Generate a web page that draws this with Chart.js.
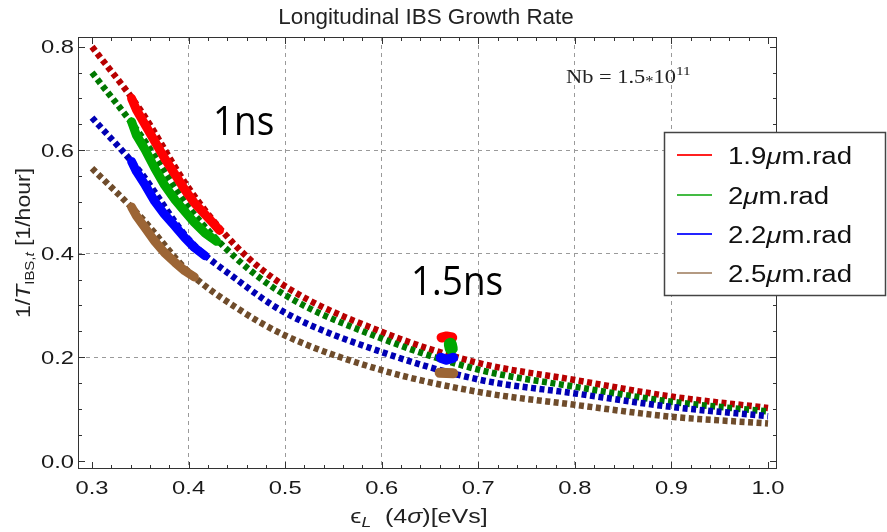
<!DOCTYPE html>
<html>
<head>
<meta charset="utf-8">
<script src="https://cdn.jsdelivr.net/npm/chart.js@4.4.0/dist/chart.umd.min.js"></script>
<style>
  html, body { margin: 0; padding: 0; background: #fff; overflow: hidden; }
  canvas { display: block; }
</style>
</head>
<body>
<canvas id="ibsChart" width="887" height="532"></canvas>
<script>
// model curves (dotted), 1/T_IBS vs longitudinal emittance
const emittance = [0.3, 0.35, 0.4, 0.45, 0.5, 0.6, 0.7, 0.8, 0.9, 1.0];
const rate19 = [0.800, 0.678, 0.527, 0.413, 0.337, 0.249, 0.189, 0.156, 0.124, 0.102];
const rate20 = [0.750, 0.630, 0.490, 0.390, 0.320, 0.236, 0.176, 0.143, 0.114, 0.095];
const rate22 = [0.663, 0.558, 0.428, 0.350, 0.286, 0.210, 0.157, 0.130, 0.104, 0.086];
const rate25 = [0.565, 0.472, 0.365, 0.295, 0.242, 0.175, 0.133, 0.108, 0.085, 0.072];

// 1ns bunch length, [emittance, rate]
const ns1_19 = [[0.341, 0.700], [0.346, 0.678], [0.355, 0.649], [0.365, 0.617], [0.375, 0.585], [0.386, 0.553], [0.396, 0.524], [0.406, 0.498], [0.417, 0.476], [0.427, 0.456], [0.432, 0.445]];
const ns1_20 = [[0.341, 0.655], [0.346, 0.629], [0.355, 0.601], [0.365, 0.565], [0.375, 0.533], [0.386, 0.504], [0.396, 0.482], [0.406, 0.460], [0.417, 0.440], [0.429, 0.424]];
const ns1_22 = [[0.341, 0.578], [0.346, 0.559], [0.355, 0.533], [0.365, 0.501], [0.375, 0.476], [0.386, 0.453], [0.396, 0.431], [0.406, 0.412], [0.417, 0.396]];
const ns1_25 = [[0.341, 0.490], [0.346, 0.473], [0.355, 0.450], [0.365, 0.424], [0.375, 0.402], [0.386, 0.383], [0.396, 0.367], [0.406, 0.355]];

// 1.5ns bunch length
const ns15_19 = [[0.662, 0.238], [0.667, 0.240], [0.673, 0.238]];
const ns15_20 = [[0.671, 0.225], [0.672, 0.217]];
const ns15_22 = [[0.661, 0.199], [0.667, 0.195], [0.674, 0.199]];
const ns15_25 = [[0.660, 0.170], [0.674, 0.169]];

const seriesNames = ['1.9', '2', '2.2', '2.5'];
const xTicks = [0.3, 0.4, 0.5, 0.6, 0.7, 0.8, 0.9, 1.0];
const yTicks = [0.0, 0.2, 0.4, 0.6, 0.8];

const dotColors = ['#b80000', '#007800', '#0000b4', '#6f4c2b'];
const solidColors = ['#ff0000', '#00a800', '#0000ff', '#9c6535'];
const keyColors = ['#ff2020', '#44bb44', '#2424ff', '#b49a82'];

const SANS = '"Liberation Sans", Arial, sans-serif';
const SERIF = '"Liberation Serif", serif';

// draws a run of text pieces, squeezed/stretched horizontally by sx
function drawRun(ctx, parts, x, y, align, sx) {
    let total = 0;
    parts.forEach(p => {
        ctx.font = p.font;
        p.w = ctx.measureText(p.text).width * sx;
        total += p.w;
    });
    let cx = x;
    if (align === 'center') cx = x - total / 2;
    if (align === 'right') cx = x - total;
    parts.forEach(p => {
        ctx.save();
        ctx.font = p.font;
        ctx.textAlign = 'left';
        ctx.textBaseline = 'alphabetic';
        ctx.translate(cx, y + (p.dy || 0));
        ctx.scale(sx, 1);
        ctx.fillText(p.text, 0, 0);
        ctx.restore();
        cx += p.w;
    });
}

const decorations = {
    id: 'decorations',
    afterDraw(chart) {
        const ctx = chart.ctx;
        const a = chart.chartArea;
        const xs = chart.scales.x;
        const ys = chart.scales.y;
        ctx.save();

        // frame with inward ticks
        ctx.strokeStyle = '#333';
        ctx.lineWidth = 1;
        ctx.strokeRect(Math.round(a.left) + 0.5, Math.round(a.top) + 0.5,
            Math.round(a.right - a.left) - 1, Math.round(a.bottom - a.top) - 1);
        ctx.beginPath();
        for (let k = 15; k <= 50; k++) {
            const px = Math.round(xs.getPixelForValue(k * 0.02)) + 0.5;
            const len = k % 5 === 0 ? 7 : 4;
            ctx.moveTo(px, a.bottom); ctx.lineTo(px, a.bottom - len);
            ctx.moveTo(px, a.top); ctx.lineTo(px, a.top + len);
        }
        for (let k = 0; k <= 16; k++) {
            const py = Math.round(ys.getPixelForValue(k * 0.05)) + 0.5;
            const len = k % 4 === 0 ? 7 : 4;
            ctx.moveTo(a.left, py); ctx.lineTo(a.left + len, py);
            ctx.moveTo(a.right, py); ctx.lineTo(a.right - len, py);
        }
        ctx.stroke();

        // tick labels
        ctx.fillStyle = '#1a1a1a';
        xTicks.forEach(v => {
            drawRun(ctx, [{ text: v.toFixed(1), font: '19px ' + SANS }],
                xs.getPixelForValue(v), 494, 'center', 1.25);
        });
        yTicks.forEach(v => {
            drawRun(ctx, [{ text: v.toFixed(1), font: '19px ' + SANS }],
                74, ys.getPixelForValue(v) + 6.8, 'right', 1.25);
        });

        // title and axis titles
        ctx.fillStyle = '#222';
        drawRun(ctx, [{ text: 'Longitudinal IBS Growth Rate', font: '22px ' + SANS }],
            426, 24, 'center', 1.02);
        drawRun(ctx, [
            { text: '\u03f5', font: '20px ' + SANS },
            { text: 'L', font: 'italic 14px ' + SANS, dy: 4 },
            { text: '  (4', font: '20px ' + SANS },
            { text: '\u03c3', font: 'italic 20px ' + SANS },
            { text: ')[eVs]', font: '20px ' + SANS }
        ], 419, 523, 'center', 1.25);
        ctx.save();
        ctx.translate(30, 318);
        ctx.rotate(-Math.PI / 2);
        drawRun(ctx, [
            { text: '1/', font: '20px ' + SANS },
            { text: 'T', font: 'italic 20px ' + SANS },
            { text: 'IBS,', font: '13px ' + SANS, dy: 4 },
            { text: 't', font: 'italic 13px ' + SANS, dy: 4 },
            { text: ' [1/hour]', font: '20px ' + SANS }
        ], 0, 0, 'left', 1.15);
        ctx.restore();

        // annotations
        ctx.fillStyle = '#000';
        drawRun(ctx, [{ text: '1ns', font: '41px "Open Sans", sans-serif' }], 213, 135, 'left', 0.9);
        drawRun(ctx, [{ text: '1.5ns', font: '41px "Open Sans", sans-serif' }], 411, 295, 'left', 0.9);
        ctx.fillStyle = '#222';
        drawRun(ctx, [
            { text: 'Nb = 1.5', font: '19px ' + SERIF },
            { text: '*', font: '14px ' + SERIF, dy: 3 },
            { text: '10', font: '19px ' + SERIF },
            { text: '11', font: '13px ' + SERIF, dy: -8 }
        ], 566, 83, 'left', 1.18);

        // legend box
        ctx.fillStyle = '#fff';
        ctx.fillRect(664, 132, 222, 164);
        ctx.strokeStyle = '#444';
        ctx.lineWidth = 1.5;
        ctx.strokeRect(664.5, 132.5, 221, 163);
        const rows = [155, 195, 234, 273];
        seriesNames.forEach((name, i) => {
            ctx.strokeStyle = keyColors[i];
            ctx.lineWidth = 2;
            ctx.beginPath();
            ctx.moveTo(677, rows[i]);
            ctx.lineTo(712, rows[i]);
            ctx.stroke();
            ctx.fillStyle = '#111';
            drawRun(ctx, [
                { text: name, font: '23px ' + SANS },
                { text: '\u03bc', font: 'italic 23px ' + SANS },
                { text: 'm.rad', font: '23px ' + SANS }
            ], 728, rows[i] + 8.5, 'left', 1.2);
        });

        ctx.restore();
    }
};

const datasets = [];
[rate19, rate20, rate22, rate25].forEach((rates, i) => {
    datasets.push({
        data: emittance.map((e, j) => ({ x: e, y: rates[j] })),
        borderColor: dotColors[i],
        borderWidth: 6.5,
        borderDash: [5, 3.5],
        borderCapStyle: 'butt',
        cubicInterpolationMode: 'monotone',
        showLine: true,
        pointRadius: 0,
        order: 20 - i
    });
});
[ns1_19, ns1_20, ns1_22, ns1_25, ns15_19, ns15_20, ns15_22, ns15_25].forEach((pts, k) => {
    datasets.push({
        data: pts.map(p => ({ x: p[0], y: p[1] })),
        borderColor: solidColors[k % 4],
        borderWidth: k < 4 ? 9 : (k === 5 ? 13 : 10),
        borderCapStyle: 'round',
        borderJoinStyle: 'round',
        showLine: true,
        pointRadius: 0,
        order: 10 - k
    });
});

const gridColor = (lo, hi) => (c) => {
    const v = c.tick ? c.tick.value : null;
    return (v !== null && v > lo && v < hi) ? '#9a9a9a' : 'rgba(0,0,0,0)';
};

new Chart(document.getElementById('ibsChart'), {
    type: 'scatter',
    data: { datasets: datasets },
    options: {
        responsive: false,
        animation: false,
        devicePixelRatio: 1,
        layout: { padding: { left: 0, right: 110, top: 37, bottom: 0 } },
        plugins: {
            legend: { display: false },
            title: { display: false },
            tooltip: { enabled: false }
        },
        scales: {
            x: {
                type: 'linear',
                min: 0.2855,
                max: 1.0093,
                afterFit: (s) => { s.height = 63; },
                ticks: { display: false, stepSize: 0.1, includeBounds: false },
                grid: { color: gridColor(0.35, 0.95), lineWidth: 1, drawTicks: false },
                border: { display: false, dash: [4, 4] }
            },
            y: {
                type: 'linear',
                min: -0.016,
                max: 0.8187,
                afterFit: (s) => { s.width = 78; },
                ticks: { display: false, stepSize: 0.2, includeBounds: false },
                grid: { color: gridColor(0.1, 0.7), lineWidth: 1, drawTicks: false },
                border: { display: false, dash: [4, 4] }
            }
        }
    },
    plugins: [decorations]
});
</script>
</body>
</html>
